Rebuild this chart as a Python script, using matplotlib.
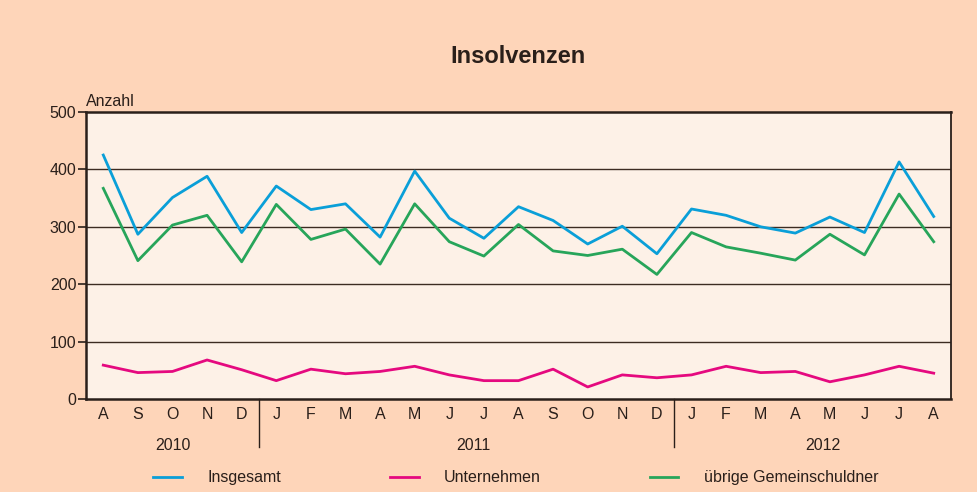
import matplotlib
matplotlib.use("Agg")
import matplotlib.pyplot as plt

# Monate Aug 2010 - Aug 2012
months = ["A", "S", "O", "N", "D",
          "J", "F", "M", "A", "M", "J", "J", "A", "S", "O", "N", "D",
          "J", "F", "M", "A", "M", "J", "J", "A"]
years = ["2010", "2011", "2012"]

insgesamt = [425, 287, 351, 388, 290, 371, 330, 340, 282, 397, 315, 280, 335,
             311, 270, 301, 253, 331, 320, 300, 289, 317, 290, 413, 318]
unternehmen = [59, 46, 48, 68, 51, 32, 52, 44, 48, 57, 42, 32, 32,
               52, 21, 42, 37, 42, 57, 46, 48, 30, 42, 57, 45]
uebrige = [367, 241, 303, 320, 239, 339, 278, 296, 235, 340, 274, 249, 304,
           258, 250, 261, 217, 290, 265, 254, 242, 287, 251, 357, 274]

c_blue = "#0a9fd8"
c_pink = "#e5097f"
c_green = "#27a55a"
c_text = "#2a1f1a"
c_fig = "#fed5b9"
c_ax = "#fdf1e7"
fs = 11.5

plt.rcParams["font.family"] = ["Liberation Sans", "DejaVu Sans"]

fig = plt.figure(figsize=(9.77, 4.92), dpi=100, facecolor=c_fig)
ax = fig.add_axes([0.088, 0.189, 0.8854, 0.5834])
ax.set_facecolor(c_ax)

x = list(range(len(months)))
ax.plot(x, insgesamt, color=c_blue, lw=2.0, label="Insgesamt", zorder=3)
ax.plot(x, unternehmen, color=c_pink, lw=2.0, label="Unternehmen", zorder=3)
ax.plot(x, uebrige, color=c_green, lw=2.0, label="übrige Gemeinschuldner", zorder=3)

ax.set_xlim(-0.5, len(months) - 0.5)
ax.set_ylim(0, 500)
ax.set_yticks([0, 100, 200, 300, 400, 500])
ax.tick_params(axis="y", direction="out", length=6, width=1.2, color=c_text,
               labelsize=fs, labelcolor=c_text, pad=1)
ax.set_xticks(x)
ax.set_xticklabels(months)
ax.tick_params(axis="x", length=0, labelsize=fs, labelcolor=c_text, pad=6)

for y in [100, 200, 300, 400]:
    ax.axhline(y, color="#3c2c22", lw=1.0, zorder=1)

for side in ["left", "bottom", "top"]:
    ax.spines[side].set_color(c_text)
    ax.spines[side].set_linewidth(1.8)
ax.spines["right"].set_color(c_text)
ax.spines["right"].set_linewidth(1.3)

# Jahrestrenner und Jahreszahlen
for xs in [4.5, 16.5]:
    ax.plot([xs, xs], [0, -0.168], color=c_text, lw=1.0,
            transform=ax.get_xaxis_transform(), clip_on=False)
for xp, yr in zip([2.0, 10.7, 20.8], years):
    ax.text(xp, -0.163, yr, transform=ax.get_xaxis_transform(),
            ha="center", va="center", fontsize=fs, color=c_text)

ax.text(0.0, 1.012, "Anzahl", transform=ax.transAxes, ha="left", va="bottom",
        fontsize=fs, color=c_text)
ax.text(0.5, 1.195, "Insolvenzen", transform=ax.transAxes, ha="center",
        va="center", fontsize=17, fontweight="bold", color=c_text)

leg = ax.legend(loc="center", bbox_to_anchor=(0.497, -0.275), ncol=3,
                frameon=False, fontsize=fs, handlelength=1.8,
                handletextpad=1.6, columnspacing=6.8)
for t in leg.get_texts():
    t.set_color(c_text)

fig.savefig("out.png", dpi=100, facecolor=c_fig)
